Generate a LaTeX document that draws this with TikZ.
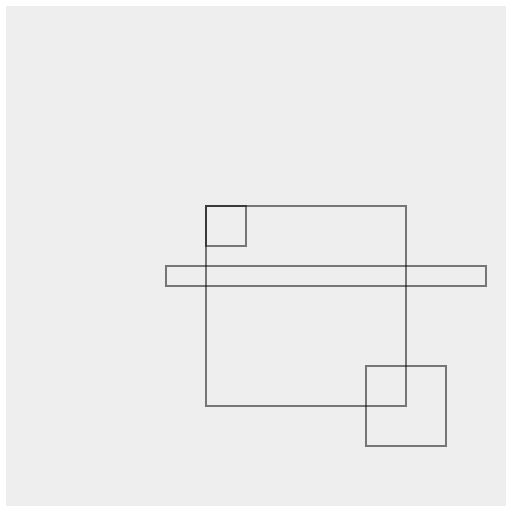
\documentclass[tikz,border=0pt]{standalone}
\begin{document}
\begin{tikzpicture}[x=1pt,y=-1pt,
  frame/.style={draw=black,draw opacity=0.5,line width=2pt}]
\useasboundingbox (0,0) rectangle (523,521);
\fill[fill={rgb,255:red,238;green,238;blue,238}] (6,6) rectangle (506,506);
\draw[frame] (206,206) rectangle (406,406);
\draw[frame] (206,206) rectangle (246,246);
\draw[frame] (166,266) rectangle (486,286);
\draw[frame] (366,366) rectangle (446,446);
\end{tikzpicture}
\end{document}
